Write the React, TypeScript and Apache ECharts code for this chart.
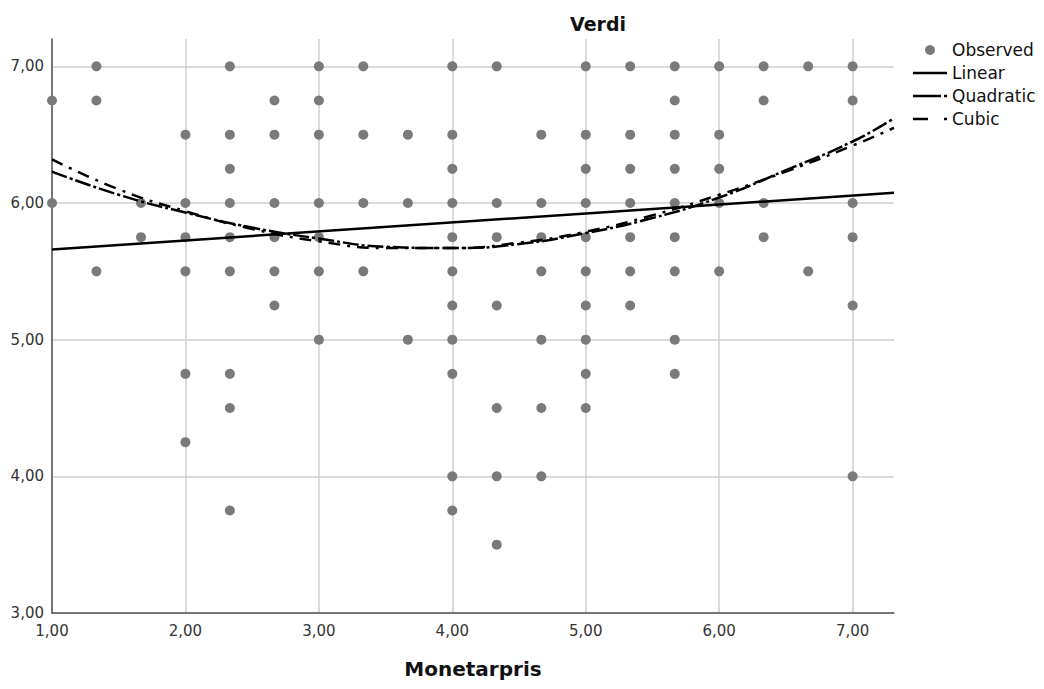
import React, { useEffect, useRef } from "react";
import * as echarts from "echarts";

const xCols = [1.0, 1.333, 1.667, 2.0, 2.333, 2.667, 3.0, 3.333, 3.667, 4.0, 4.333, 4.667, 5.0, 5.333, 5.667, 6.0, 6.333, 6.667, 7.0];
const yCols = [
  [6.75, 6.0],
  [7.0, 6.75, 5.5],
  [6.0, 5.75],
  [6.5, 6.0, 5.75, 5.5, 4.75, 4.25],
  [7.0, 6.5, 6.25, 6.0, 5.75, 5.5, 4.75, 4.5, 3.75],
  [6.75, 6.5, 6.0, 5.75, 5.5, 5.25],
  [7.0, 6.75, 6.5, 6.0, 5.75, 5.5, 5.0],
  [7.0, 6.5, 6.0, 5.5],
  [6.5, 6.0, 5.0],
  [7.0, 6.5, 6.25, 6.0, 5.75, 5.5, 5.25, 5.0, 4.75, 4.0, 3.75],
  [7.0, 6.0, 5.75, 5.25, 4.5, 4.0, 3.5],
  [6.5, 6.0, 5.75, 5.5, 5.0, 4.5, 4.0],
  [7.0, 6.5, 6.25, 6.0, 5.75, 5.5, 5.25, 5.0, 4.75, 4.5],
  [7.0, 6.5, 6.25, 6.0, 5.75, 5.5, 5.25],
  [7.0, 6.75, 6.5, 6.25, 6.0, 5.75, 5.5, 5.0, 4.75],
  [7.0, 6.5, 6.25, 6.0, 5.5],
  [7.0, 6.75, 6.0, 5.75],
  [7.0, 5.5],
  [7.0, 6.75, 6.0, 5.75, 5.25, 4.0],
];

const linearX = [1.0, 7.31];
const linearY = [5.66, 6.075];

const curveX = [1.0, 1.5, 2.0, 2.5, 3.0, 3.5, 4.0, 4.5, 5.0, 5.5, 6.0, 6.5, 7.0, 7.31];
const quadY = [6.23, 6.06, 5.93, 5.82, 5.74, 5.68, 5.67, 5.7, 5.78, 5.89, 6.04, 6.24, 6.45, 6.62];
const cubicY = [6.32, 6.1, 5.94, 5.81, 5.72, 5.67, 5.67, 5.71, 5.79, 5.91, 6.06, 6.23, 6.42, 6.55];

const legendNames = ["Observed", "Linear", "Quadratic", "Cubic"];

const FONT = "DejaVu Sans";
const fmt = (v: number) => v.toFixed(2).replace(".", ",");

export default function App() {
  const ref = useRef<HTMLDivElement>(null);
  useEffect(() => {
    if (!ref.current) return;
    const chart = echarts.init(ref.current, undefined, { renderer: "svg" });
    const observed: number[][] = [];
    xCols.forEach((x, i) => yCols[i].forEach((y) => observed.push([x, y])));
    const lx = 913;
    const tx = 952;
    const rows = [50, 73, 96, 119];
    chart.setOption({
      animation: false,
      backgroundColor: "#fff",
      title: {
        text: "Verdi",
        left: 565,
        top: 9,
        textStyle: { fontFamily: FONT, fontSize: 19, fontWeight: "bold", color: "#111" },
      },
      grid: { left: 52, right: 150, top: 39, bottom: 76 },
      xAxis: {
        type: "value",
        min: 1,
        max: 7.31,
        interval: 1,
        name: "Monetarpris",
        nameLocation: "middle",
        nameGap: 46,
        nameTextStyle: { fontFamily: FONT, fontSize: 20, fontWeight: "bold", color: "#111" },
        axisLine: { show: true, onZero: false, lineStyle: { color: "#555", width: 1.5 } },
        axisTick: { show: false },
        axisLabel: {
          formatter: (v: number) => (Math.abs(v - Math.round(v)) < 1e-6 ? fmt(v) : ""),
          fontFamily: FONT,
          fontSize: 15,
          color: "#333",
          margin: 10,
          showMaxLabel: false,
        },
        splitLine: { show: true, showMaxLine: false, lineStyle: { color: "#cfcfcf", width: 1.5 } },
      },
      yAxis: {
        type: "value",
        min: 3,
        max: 7.2,
        interval: 1,
        axisLine: { show: true, onZero: false, lineStyle: { color: "#555", width: 1.5 } },
        axisTick: { show: false },
        axisLabel: {
          formatter: (v: number) => (Math.abs(v - Math.round(v)) < 1e-6 ? fmt(v) : ""),
          fontFamily: FONT,
          fontSize: 15,
          color: "#333",
          margin: 8,
          showMaxLabel: false,
        },
        splitLine: { show: true, showMaxLine: false, lineStyle: { color: "#cfcfcf", width: 1.5 } },
      },
      series: [
        {
          name: legendNames[0],
          type: "scatter",
          data: observed,
          symbolSize: 10,
          itemStyle: { color: "#7a7a7a", opacity: 1 },
          z: 2,
        },
        {
          name: legendNames[1],
          type: "line",
          data: linearX.map((x, i) => [x, linearY[i]]),
          showSymbol: false,
          symbol: "none",
          lineStyle: { color: "#000", width: 2.5 },
          z: 4,
        },
        {
          name: legendNames[2],
          type: "line",
          data: curveX.map((x, i) => [x, quadY[i]]),
          smooth: true,
          showSymbol: false,
          symbol: "none",
          lineStyle: { color: "#000", width: 2.5, type: [16, 3, 3, 3] },
          z: 4,
        },
        {
          name: legendNames[3],
          type: "line",
          data: curveX.map((x, i) => [x, cubicY[i]]),
          smooth: true,
          showSymbol: false,
          symbol: "none",
          lineStyle: { color: "#000", width: 2.5, type: [12, 7, 3, 7] },
          z: 4,
        },
      ],
      graphic: [
        { type: "circle", shape: { cx: 930, cy: rows[0], r: 5 }, style: { fill: "#7a7a7a" } },
        { type: "line", shape: { x1: lx, y1: rows[1], x2: lx + 34, y2: rows[1] }, style: { stroke: "#000", lineWidth: 2.5 } },
        { type: "line", shape: { x1: lx, y1: rows[2], x2: lx + 28, y2: rows[2] }, style: { stroke: "#000", lineWidth: 2.5 } },
        { type: "line", shape: { x1: lx + 31, y1: rows[2], x2: lx + 34, y2: rows[2] }, style: { stroke: "#000", lineWidth: 2.5 } },
        { type: "line", shape: { x1: lx, y1: rows[3], x2: lx + 15, y2: rows[3] }, style: { stroke: "#000", lineWidth: 2.5 } },
        { type: "line", shape: { x1: lx + 31, y1: rows[3], x2: lx + 34, y2: rows[3] }, style: { stroke: "#000", lineWidth: 2.5 } },
        ...legendNames.map((n, i) => ({
          type: "text",
          x: tx,
          y: rows[i],
          style: {
            text: n,
            fontFamily: FONT,
            fontSize: 17,
            fill: "#111",
            verticalAlign: "middle",
          },
        })),
      ],
    });
    return () => chart.dispose();
  }, []);
  return (
    <div
      ref={ref}
      style={{ position: "absolute", left: 0, top: 0, width: 1044, height: 689, background: "#fff" }}
    />
  );
}
